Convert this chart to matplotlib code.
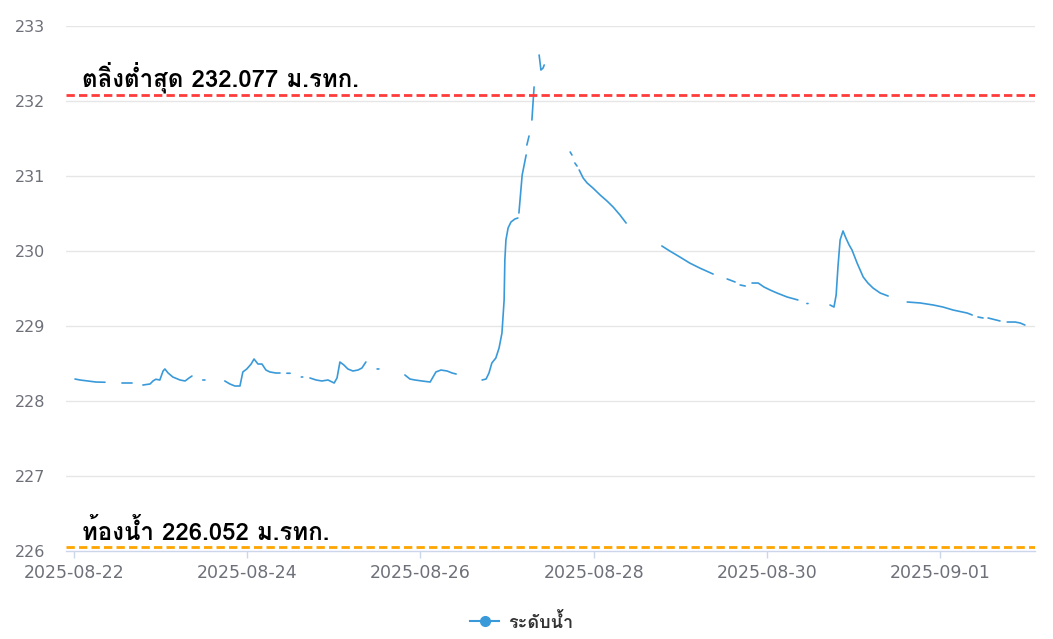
import numpy as np
import pandas as pd
import matplotlib
matplotlib.use("Agg")
import matplotlib.pyplot as plt
from matplotlib.lines import Line2D

# ---------------- data ----------------
start = pd.Timestamp("2025-08-22 00:00")
# hours since start (None = gap in record)
hours = [0.3, 1.7, 3.9, 6.1, 8.6, None,
         13.3, 16.1, None,
         19.1, 21.1, 21.9, 22.7, 23.8, 24.7, 25.2, 26.1, 27.4, 29.4, 30.8, 31.9, 32.7, None,
         35.7, 36.3, None,
         41.8, 43.2, 44.6, 46.0, 46.8, 47.9, 49.1, 49.9, 51.0, 52.1, 53.2, 54.3, 56.0, 57.1, None,
         59.0, 59.9, None,
         63.0, 63.4, None,
         65.4, 67.1, 68.7, 70.4, 72.1, 72.9, 73.7, 74.8, 75.9, 77.3, 78.7, 79.8, 80.9, None,
         84.0, 84.5, None,
         91.7, 93.1, 94.5, 96.4, 98.7, 99.5, 100.3, 101.7, 103.4, 104.8, 105.9, None,
         113.1, 114.2, 115.0, 115.8, 116.9, 117.8, 118.6, 119.2, 119.4, 119.7, 120.3, 121.1, 122.2, 123.0, None,
         123.3, 124.2, 125.3, None,
         125.5, 126.1, None,
         126.9, 127.5, None,
         128.9, 129.4, 130.0, 130.3, None,
         137.5, 138.0, None,
         138.8, 139.4, None,
         140.0, 141.1, 142.2, 143.8, 145.8, 147.7, 149.4, 151.3, 153.0, None,
         162.9, 165.1, 167.9, 170.6, 173.4, 177.1, None,
         181.0, 183.2, None,
         184.6, 186.0, None,
         187.9, 189.6, 191.2, 192.9, 194.8, 197.6, 200.6, None,
         203.1, 203.4, None,
         209.5, 210.6, 211.2, 211.7, 212.3, 213.1, 213.9, 214.8, 215.6, 217.0, 218.7, 220.0, 221.4, 223.4, 225.6, None,
         230.9, 234.5, 238.1, 240.8, 243.6, 247.5, 248.9, None,
         250.5, 251.9, None,
         253.3, 256.6, None,
         258.6, 260.8, 262.2, 263.5]
levels = [228.293, 228.28, 228.267, 228.253, 228.25, None,
          228.24, 228.24, None,
          228.213, 228.227, 228.267, 228.29, 228.28, 228.40, 228.427, 228.373, 228.32, 228.28, 228.267, 228.307, 228.333, None,
          228.28, 228.28, None,
          228.267, 228.227, 228.20, 228.20, 228.387, 228.427, 228.493, 228.56, 228.493, 228.493, 228.413, 228.387, 228.373, 228.373, None,
          228.37, 228.37, None,
          228.32, 228.32, None,
          228.307, 228.28, 228.267, 228.28, 228.24, 228.307, 228.52, 228.48, 228.427, 228.40, 228.413, 228.44, 228.52, None,
          228.427, 228.427, None,
          228.347, 228.293, 228.28, 228.267, 228.253, 228.32, 228.387, 228.413, 228.40, 228.373, 228.36, None,
          228.28, 228.293, 228.373, 228.507, 228.573, 228.707, 228.907, 229.347, 229.88, 230.147, 230.307, 230.387, 230.427, 230.44, None,
          230.507, 231.013, 231.28, None,
          231.413, 231.533, None,
          231.747, 232.187, None,
          232.613, 232.413, 232.44, 232.48, None,
          231.32, 231.28, None,
          231.173, 231.133, None,
          231.08, 230.973, 230.907, 230.84, 230.747, 230.667, 230.587, 230.48, 230.373, None,
          230.067, 230.0, 229.92, 229.84, 229.773, 229.693, None,
          229.627, 229.587, None,
          229.547, 229.533, None,
          229.573, 229.573, 229.52, 229.48, 229.44, 229.387, 229.347, None,
          229.30, 229.30, None,
          229.28, 229.253, 229.413, 229.787, 230.147, 230.267, 230.173, 230.08, 230.013, 229.84, 229.653, 229.573, 229.507, 229.44, 229.40, None,
          229.32, 229.307, 229.28, 229.253, 229.213, 229.173, 229.147, None,
          229.12, 229.107, None,
          229.107, 229.067, None,
          229.053, 229.053, 229.04, 229.013]

bank_level = 232.077
bed_level = 226.052
bank_label = "ตลิ่งต่ำสุด 232.077 ม.รทก."
bed_label = "ท้องน้ำ 226.052 ม.รทก."
series_name = "ระดับน้ำ"
x_ticks = ["2025-08-22", "2025-08-24", "2025-08-26", "2025-08-28", "2025-08-30", "2025-09-01"]
y_ticks = [226, 227, 228, 229, 230, 231, 232, 233]

# ---------------- plot ----------------
thai = ["Loma", "Noto Sans Thai", "DejaVu Sans"]
times = [start + pd.Timedelta(hours=h) if h is not None else pd.NaT for h in hours]
vals = np.array([np.nan if v is None else v for v in levels], dtype=float)
t = pd.to_datetime(pd.Series(times)).ffill()

fig = plt.figure(figsize=(10.53, 6.39), dpi=100)
ax = fig.add_axes([66 / 1053, 1 - 551 / 639, (1035 - 66) / 1053, (551 - 26) / 639])

line_color = "#3a9ad9"
ax.plot(t, vals, color=line_color, lw=1.2, solid_capstyle="round", zorder=3)

ax.set_ylim(226, 233)
ax.set_yticks(y_ticks)
ax.set_xlim(start - pd.Timedelta(hours=2.2), start + pd.Timedelta(hours=266.3))
ax.set_xticks(pd.to_datetime(x_ticks))
ax.set_xticklabels(x_ticks)

for y in y_ticks[1:]:
    ax.axhline(y, color="#e6e6e6", lw=1.0, zorder=1)

for s in ["top", "right", "left"]:
    ax.spines[s].set_visible(False)
ax.spines["bottom"].set_color("#ccd6eb")
ax.spines["bottom"].set_linewidth(1.0)

ax.tick_params(axis="y", length=0, pad=15, labelsize=11.5, labelcolor="#6e7079")
ax.tick_params(axis="x", length=5, width=1, color="#ccd6eb", pad=4, labelsize=12.5, labelcolor="#6e7079")

ax.axhline(bank_level, color="#ff3b3b", lw=2.0, ls=(0, (3, 1.5)), zorder=4)
ax.axhline(bed_level, color="#ffa500", lw=2.0, ls=(0, (3, 1.5)), zorder=4)

ax.text(start + pd.Timedelta(hours=2.2), bank_level + 0.025, bank_label, family=thai,
        fontsize=17.3, fontweight="bold", color="#000000", va="bottom", ha="left", zorder=5)
ax.text(start + pd.Timedelta(hours=2.2), bed_level + 0.025, bed_label, family=thai,
        fontsize=17.3, fontweight="bold", color="#000000", va="bottom", ha="left", zorder=5)

handle = Line2D([], [], color=line_color, lw=1.5, marker="o", markersize=7,
                markerfacecolor=line_color, markeredgecolor=line_color)
leg = fig.legend([handle], [series_name], loc="center", bbox_to_anchor=(522 / 1053, 1 - 622 / 639),
                 frameon=False, handlelength=1.6, handletextpad=0.5,
                 prop={"family": thai, "size": 13, "weight": "bold"})
for txt in leg.get_texts():
    txt.set_color("#333333")

fig.savefig("out.png", dpi=100)
